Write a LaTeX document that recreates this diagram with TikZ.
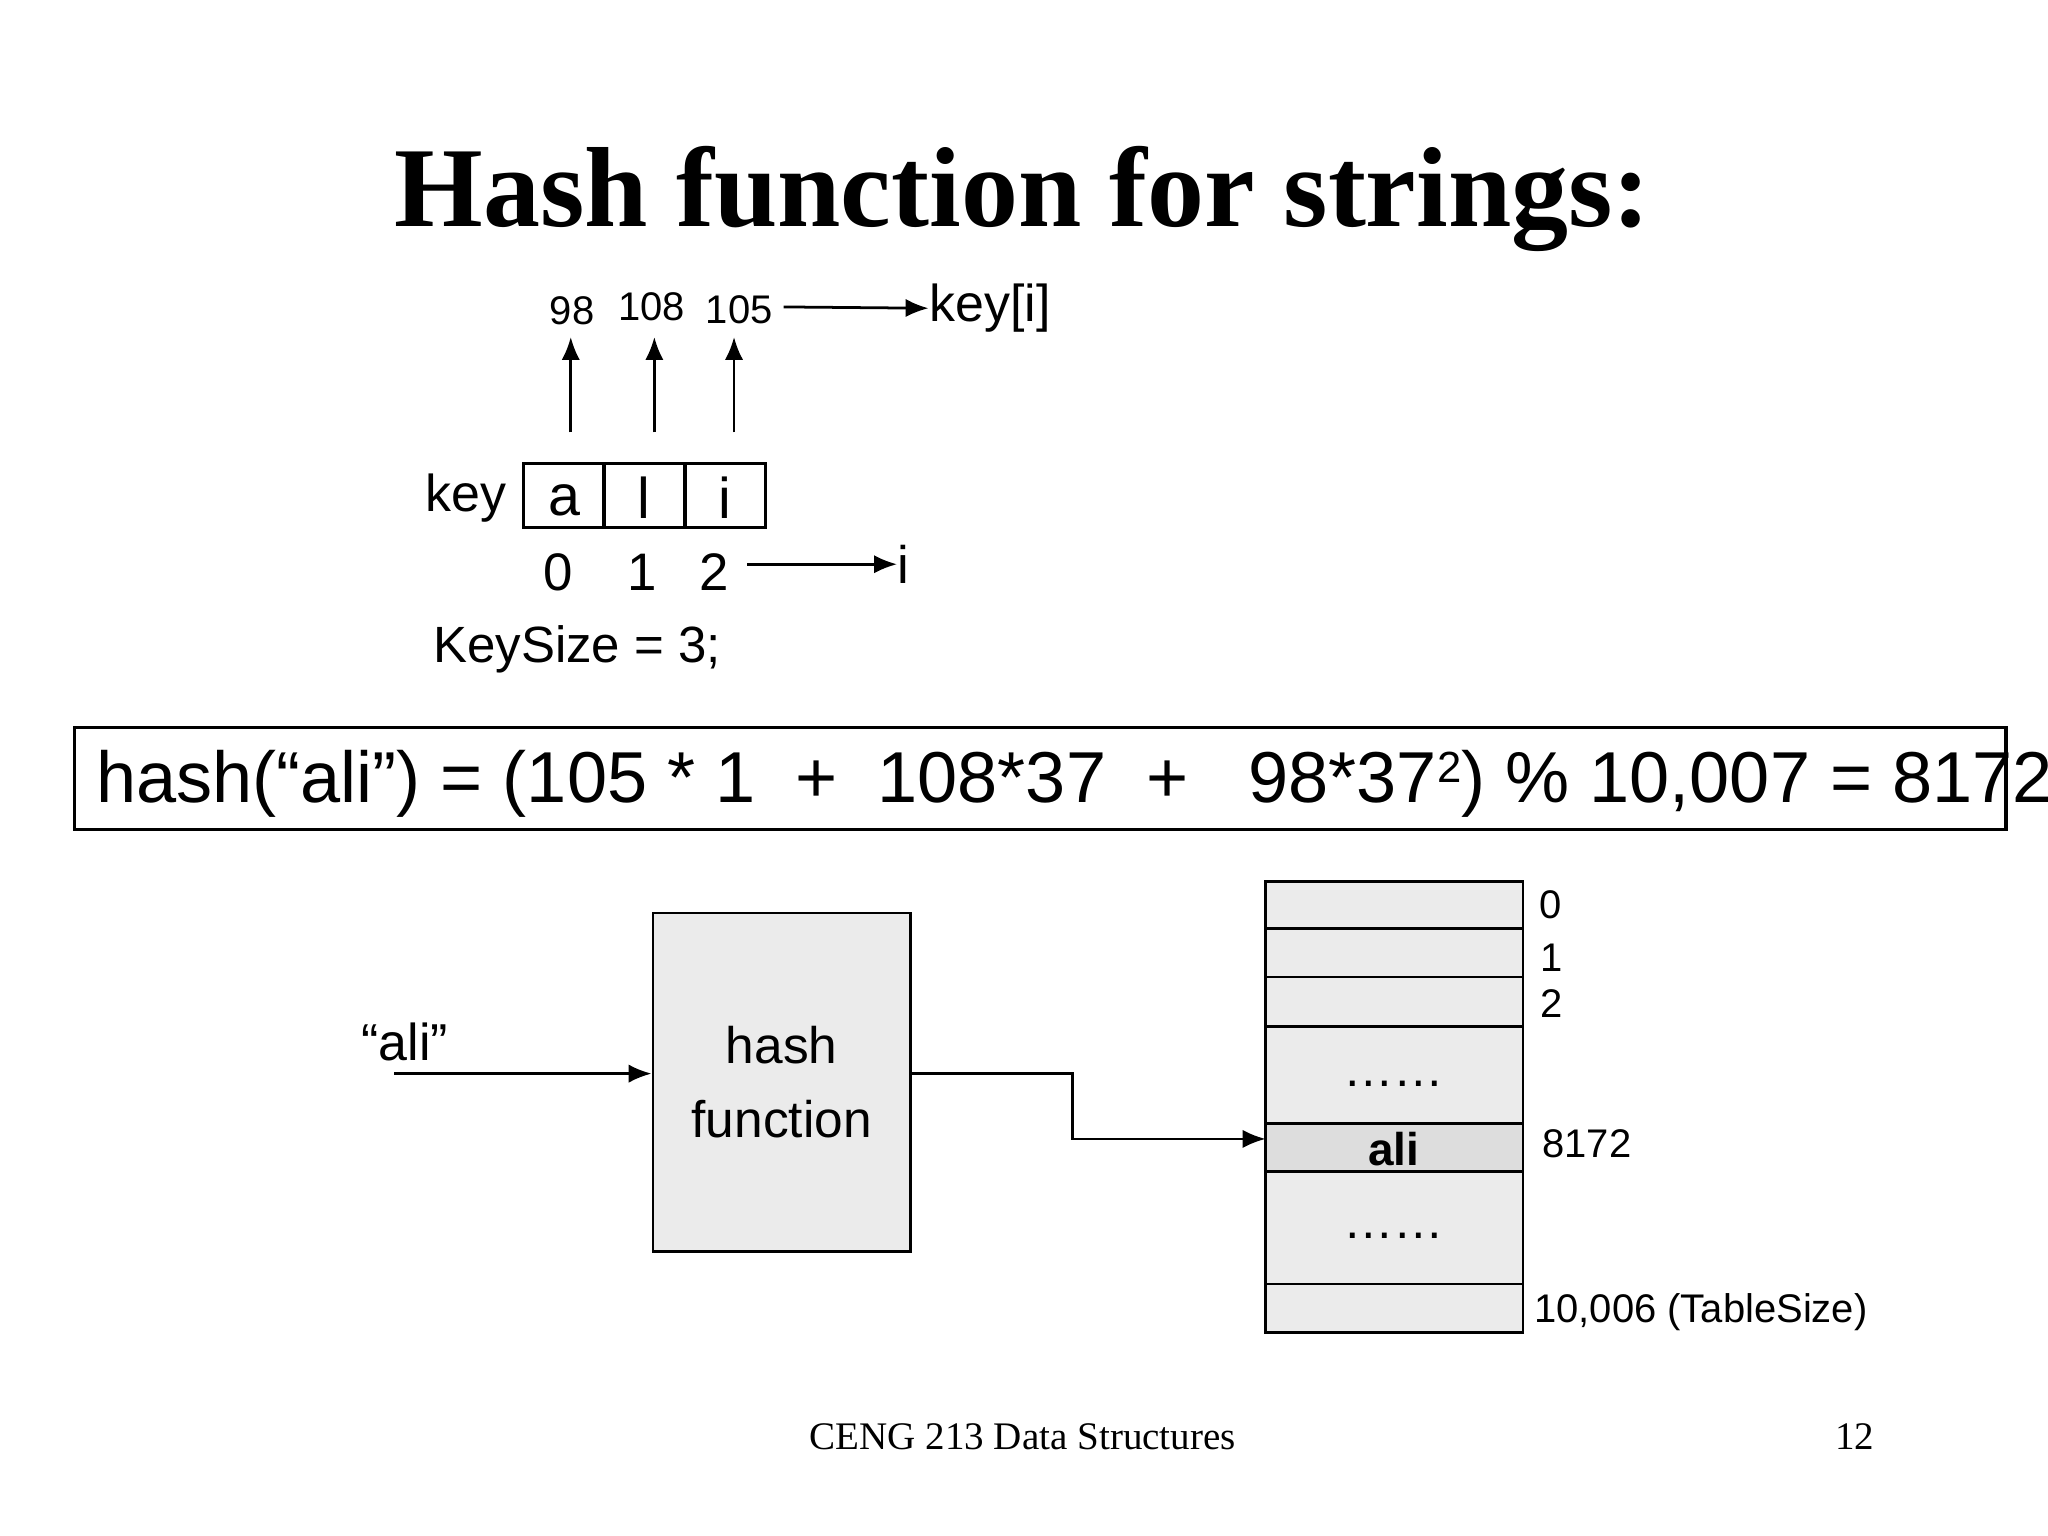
\documentclass[tikz,border=0pt]{standalone}
\usepackage{fontspec}
\setmainfont{Liberation Sans}
\newfontfamily\serif{Liberation Serif}
\usetikzlibrary{arrows.meta}
\begin{document}
\begin{tikzpicture}[x=0.01cm,y=-0.01cm,
  arr/.style={-{Latex[length=5pt,width=4pt]},line width=0.6pt},
  cell/.style={draw,line width=0.6pt,fill=gray!16},
  lbl/.style={inner sep=0pt,font=\fontsize{8.7}{10}\selectfont}]
\useasboundingbox (0,0) rectangle (1568,1176);
% title
\node[inner sep=0pt,font=\serif\bfseries\fontsize{24.8}{30}\selectfont] (title) at (783,152) {Hash function for strings:};
% key array
\foreach \x in {401,463,525}
  \draw[line width=0.6pt] (\x,355) rectangle ++(61,49);
\node[inner sep=0pt,font=\fontsize{12.5}{14}\selectfont] (ca) at (432,383) {a};
\node[inner sep=0pt,font=\fontsize{12.5}{14}\selectfont] (cl) at (493,381) {l};
\node[inner sep=0pt,font=\fontsize{12.5}{14}\selectfont] (ci) at (555,381) {i};
\node[inner sep=0pt,font=\fontsize{11.3}{14}\selectfont] (key) at (357,381) {key};
% ascii values
\node[lbl] (v98) at (438,238) {98};
\node[lbl] (v108) at (499,235) {108};
\node[lbl] (v105) at (566,237) {105};
\coordinate (ua) at (437,331); \coordinate (ul) at (501,331); \coordinate (ui) at (562,331);
\draw[arr] (ua) -- (437,258);
\draw[arr] (ul) -- (501,258);
\draw[arr] (ui) -- (562,258);
\node[inner sep=0pt,font=\fontsize{11.3}{14}\selectfont] (keyi) at (758,236) {key[i]};
\draw[arr] (600,235) -- (keyi.west);
% indices
\node[inner sep=0pt,font=\fontsize{11.5}{14}\selectfont] (i0) at (427,438) {0};
\node[inner sep=0pt,font=\fontsize{11.5}{14}\selectfont] (i1) at (492,438) {1};
\node[inner sep=0pt,font=\fontsize{11.5}{14}\selectfont] (i2) at (547,438) {2};
\node[inner sep=0pt,font=\fontsize{11.5}{14}\selectfont] (ii) at (692,432) {i};
\draw[arr] (572,432) -- (ii.west);
\node[inner sep=0pt,anchor=west,font=\fontsize{11.1}{14}\selectfont] (ks) at (331,497) {KeySize = 3;};
% formula
\draw[line width=0.8pt] (57,557) rectangle (1536,635);
\node[inner sep=0pt,anchor=west,font=\fontsize{15.7}{20}\selectfont] (formula) at (73,600)
  {hash(“ali”) = (105 * 1 \ + \ 108*37 \ + \ \ 98*37{\fontsize{9.5}{10}\selectfont\raisebox{0.45em}{2}}) \% 10,007 = 8172};
% hash function box
\node[cell,inner sep=0pt,font=\fontsize{11.2}{16}\selectfont,align=center,
  minimum width=1.97cm,minimum height=2.59cm] (hf) at (598.5,828.5) {hash\\function};
\node[inner sep=0pt,font=\fontsize{11.3}{14}\selectfont] (ali) at (310,798) {“ali”};
\coordinate (in) at (302,822);
\draw[arr] (in) -- (hf.west |- in);
% table
\foreach \a/\b in {675/711,711/748,748/786,786/860,897/983,983/1020}
  \draw[cell] (969,\a) rectangle (1166,\b);
\draw[line width=0.6pt,fill=gray!27] (969,860) rectangle (1166,897);
\node[inner sep=0pt,font=\bfseries\fontsize{10}{12}\selectfont] (tali) at (1067,880) {ali};
\node[lbl] (d1) at (1067,830) {\fontsize{11}{12}\selectfont\dots\dots};
\node[lbl] (d2) at (1067,946) {\fontsize{11}{12}\selectfont\dots\dots};
\coordinate (tin) at (969,872);
\draw[arr] (hf.east |- 0,822) -- (821,822) -- (821,872) -- (tin);
\node[lbl] (t0) at (1187,693) {0};
\node[lbl] (t1) at (1188,733) {1};
\node[lbl] (t2) at (1188,768) {2};
\node[lbl] (t8172) at (1215,876) {8172};
\node[lbl,anchor=west] (tend) at (1174,1005) {10,006 (TableSize)};
% footer
\node[inner sep=0pt,font=\serif\fontsize{8.5}{10}\selectfont] (foot) at (783,1100) {CENG 213 Data Structures};
\node[inner sep=0pt,font=\serif\fontsize{8.5}{10}\selectfont] (page) at (1420,1100) {12};
\end{tikzpicture}
\end{document}
